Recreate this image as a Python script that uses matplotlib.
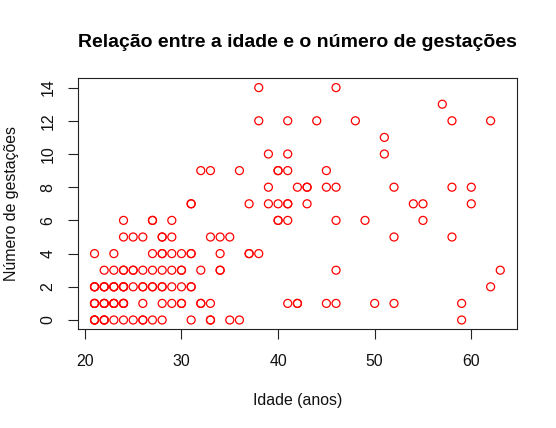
import matplotlib
matplotlib.use("Agg")
import matplotlib.pyplot as plt

plt.rcParams['font.family'] = ['Liberation Sans', 'DejaVu Sans']

titulo = "Relação entre a idade e o número de gestações"
rotulo_x = "Idade (anos)"
rotulo_y = "Número de gestações"
xticks = [20, 30, 40, 50, 60]
yticks = [0, 2, 4, 6, 8, 10, 12, 14]

# Idade (anos) e número de gestações (pontos repetidos = sobreposição)
idade = [
    21, 21, 21, 22, 22, 22, 23, 24, 25, 26, 26, 27, 28, 31, 33, 33, 35, 36, 59,
    21, 21, 21, 22, 22, 22, 23, 23, 23, 24, 24, 24, 26, 28, 29, 30, 30, 32, 32, 33, 41, 42, 42, 45, 46, 50, 52, 59,
    21, 21, 21, 22, 22, 22, 23, 23, 23, 24, 24, 24, 25, 26, 26, 27, 27, 28, 28, 29, 30, 31, 31, 62,
    22, 23, 24, 24, 25, 25, 26, 27, 28, 29, 30, 30, 32, 34, 34, 46, 63,
    21, 23, 27, 28, 28, 29, 30, 31, 31, 34, 37, 37, 38,
    24, 25, 26, 28, 28, 29, 33, 34, 35, 52, 58,
    24, 27, 27, 29, 40, 40, 41, 46, 49, 55,
    31, 31, 37, 39, 40, 41, 41, 43, 54, 55, 60,
    39, 42, 43, 43, 45, 46, 52, 58, 60,
    32, 33, 36, 40, 40, 41, 45,
    39, 41, 51,
    51,
    38, 41, 44, 48, 58, 62,
    57,
    38, 46,
]
gestacoes = (
    [0] * 19 + [1] * 28 + [2] * 24 + [3] * 17 + [4] * 13 + [5] * 11 + [6] * 10
    + [7] * 11 + [8] * 9 + [9] * 7 + [10] * 3 + [11] * 1 + [12] * 6 + [13] * 1 + [14] * 2
)

W, H = 556, 428
fig = plt.figure(figsize=(W / 100, H / 100), dpi=100)
L, R, T, B = 78.3, 516.5, 78.3, 329.3
ax = fig.add_axes([L / W, 1 - B / H, (R - L) / W, (B - T) / H])

ax.scatter(idade, gestacoes, s=33, facecolors='none', edgecolors='#ff0000', linewidths=0.9)

ax.set_xlim(19.32, 64.68)
ax.set_ylim(-0.56, 14.56)
ax.set_xticks(xticks)
ax.set_yticks(yticks)
for sp in ax.spines.values():
    sp.set_linewidth(0.8)
    sp.set_color('#222222')

fs = 11.4
ax.tick_params(axis='both', direction='out', length=6.9, width=0.8, color='#222222',
               labelsize=fs, labelcolor='#111111')
ax.tick_params(axis='x', pad=11.0)
ax.tick_params(axis='y', pad=9.4)
for lab in ax.get_yticklabels():
    lab.set_rotation(90)
    lab.set_va('center')

cx = (L + R) / 2 / W
fig.text(cx, 1 - 47 / H, titulo, ha='center', va='baseline', fontsize=14.0, fontweight='bold')
fig.text(cx, 1 - 405 / H, rotulo_x, ha='center', va='baseline', fontsize=fs, color='#111111')
fig.text(16 / W, 1 - ((T + B) / 2) / H, rotulo_y, ha='center', va='baseline', rotation=90,
         rotation_mode='anchor', fontsize=fs, color='#111111')

fig.savefig("out.png", dpi=100)
